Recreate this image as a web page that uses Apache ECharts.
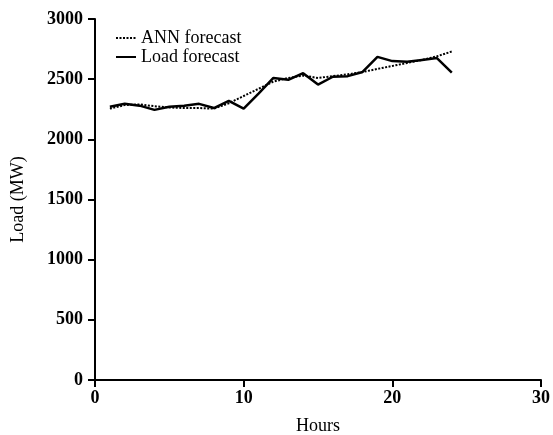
<!DOCTYPE html>
<html>
<head>
<meta charset="utf-8">
<script src="https://cdn.jsdelivr.net/npm/echarts@6/dist/echarts.min.js"></script>
<style>
  html, body { margin: 0; padding: 0; background: #fff; }
  #chart { width: 553px; height: 435px; }
</style>
</head>
<body>
<div id="chart"></div>
<script>
var hours = [1, 2, 3, 4, 5, 6, 7, 8, 9, 10, 11, 12, 13, 14, 15, 16, 17, 18, 19, 20, 21, 22, 23, 24];
var annForecast = [2255, 2285, 2290, 2275, 2265, 2260, 2260, 2255, 2300, 2360, 2420, 2480,
                   2510, 2530, 2510, 2525, 2540, 2560, 2585, 2610, 2635, 2660, 2690, 2730];
var loadForecast = [2270, 2295, 2280, 2245, 2270, 2280, 2295, 2260, 2320, 2255, 2380, 2510,
                    2495, 2550, 2455, 2520, 2525, 2560, 2685, 2650, 2645, 2660, 2675, 2555];

function pairs(xs, ys) {
    return xs.map(function(x, i) { return [x, ys[i]]; });
}

var serif = 'Liberation Serif';
var chart = echarts.init(document.getElementById('chart'));

function axisStyle(labelMargin) {
    return {
        axisLine: { show: true, lineStyle: { color: '#000', width: 2 } },
        axisTick: { show: true, inside: false, length: 7, lineStyle: { color: '#000', width: 2 } },
        axisLabel: {
            color: '#000', fontFamily: serif, fontSize: 18, fontWeight: 'bold', margin: labelMargin,
            formatter: function(v) { return String(v); }
        },
        splitLine: { show: false },
        nameTextStyle: { color: '#000', fontFamily: serif, fontSize: 18 }
    };
}

var option = {
    animation: false,
    grid: { left: 95, right: 12, top: 19, bottom: 55, outerBoundsMode: 'none' },
    legend: {
        orient: 'vertical',
        left: 110,
        top: 24,
        itemWidth: 20,
        itemHeight: 12,
        itemGap: 1,
        itemStyle: { opacity: 0 },
        textStyle: { color: '#000', fontFamily: serif, fontSize: 18, lineHeight: 18 },
        data: ['ANN forecast', 'Load forecast']
    },
    xAxis: Object.assign({
        type: 'value',
        min: 0,
        max: 30,
        interval: 10,
        name: 'Hours',
        nameLocation: 'middle',
        nameGap: 37
    }, axisStyle(9)),
    yAxis: Object.assign({
        type: 'value',
        min: 0,
        max: 3000,
        interval: 500,
        name: 'Load (MW)',
        nameLocation: 'middle',
        nameGap: 68
    }, axisStyle(12)),
    series: [{
        name: 'ANN forecast',
        type: 'line',
        showSymbol: false,
        symbol: 'none',
        lineStyle: { color: '#000', width: 2, type: [2, 1.5] },
        itemStyle: { color: '#000' },
        data: pairs(hours, annForecast)
    }, {
        name: 'Load forecast',
        type: 'line',
        showSymbol: false,
        symbol: 'none',
        lineStyle: { color: '#000', width: 2.5 },
        itemStyle: { color: '#000' },
        data: pairs(hours, loadForecast)
    }]
};
chart.setOption(option);
</script>
</body>
</html>
